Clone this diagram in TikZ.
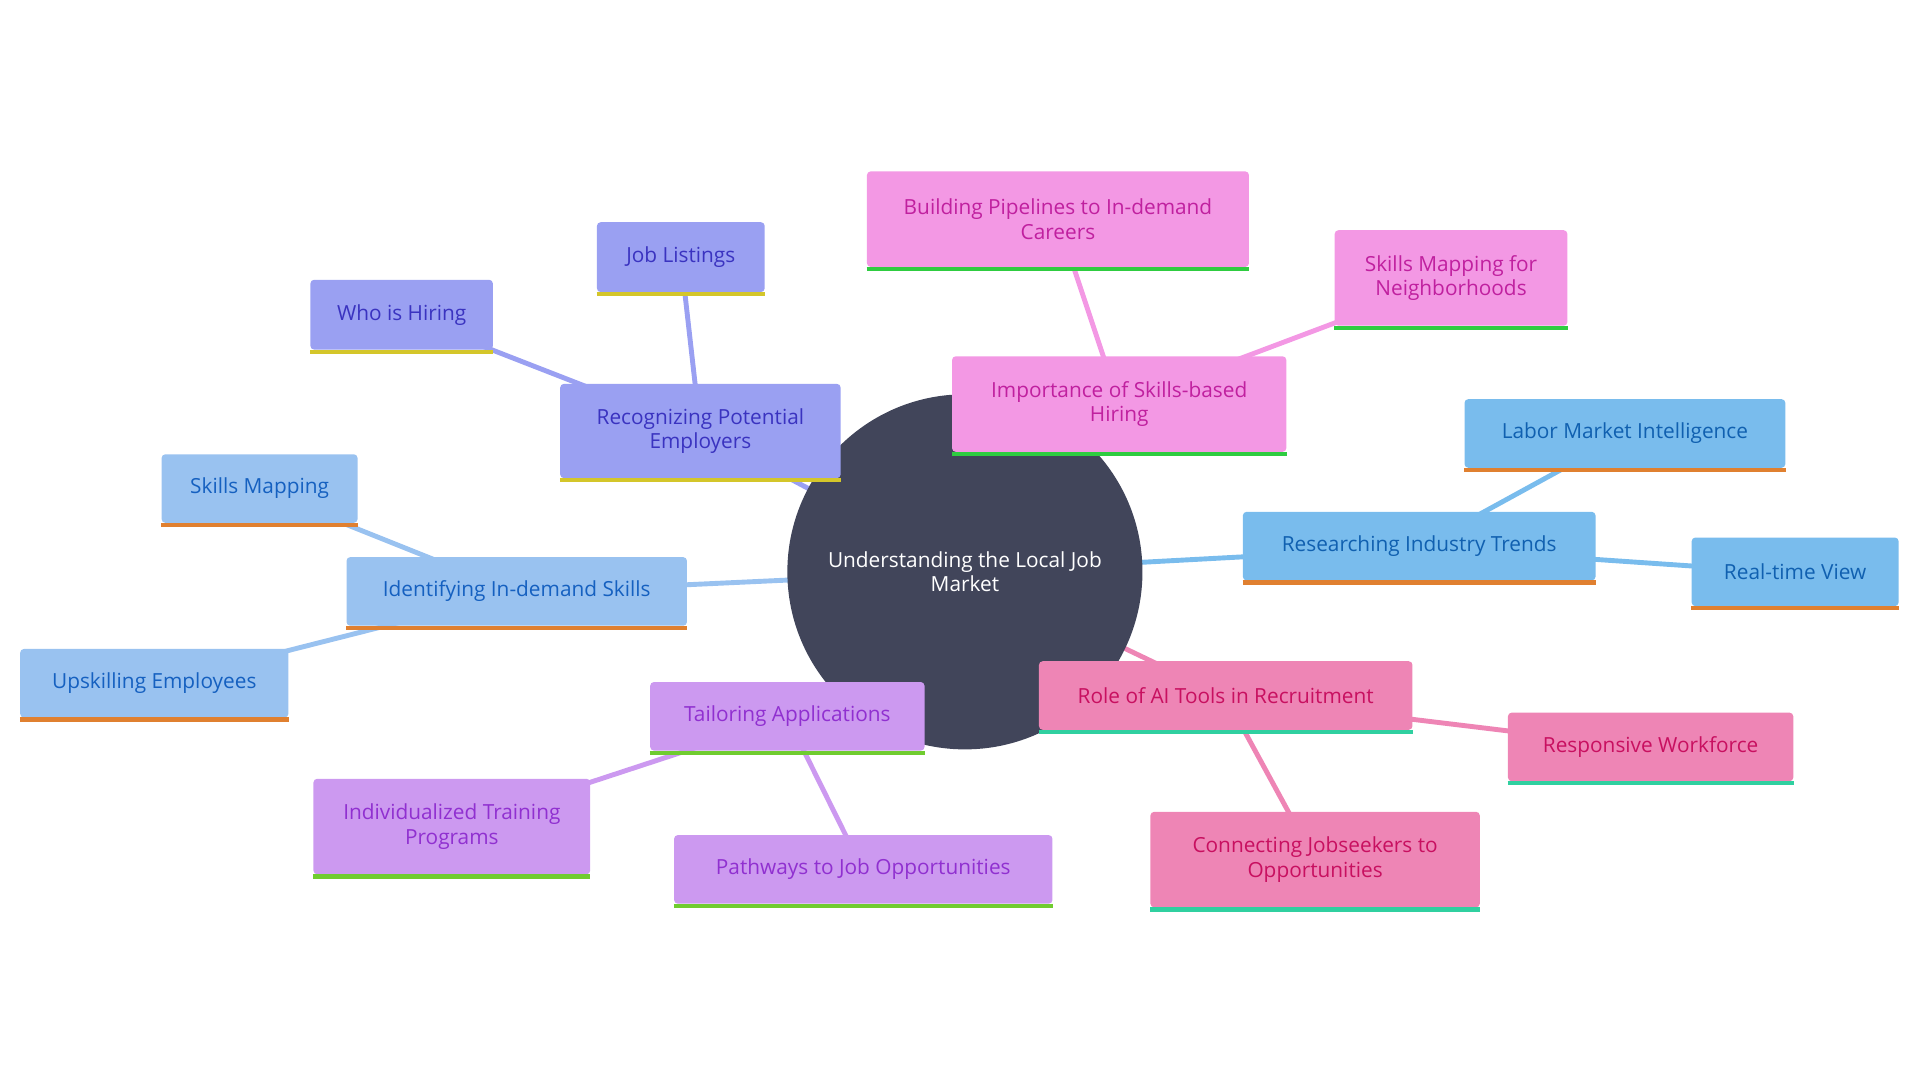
\documentclass[tikz,border=0pt]{standalone}
\usepackage{fontspec}
\setmainfont{Open Sans}
\begin{document}
\begin{tikzpicture}[x=1pt,y=-1pt,
  bx/.style={rectangle,rounded corners=3pt,inner sep=2pt,align=center,font=\fontsize{17}{20}\selectfont},
  ln/.style={line width=4pt}]
\useasboundingbox (0,0) rectangle (1568,882);
\definecolor{cc}{HTML}{41455A}
\definecolor{fa}{HTML}{9AA0F2}\definecolor{ta}{HTML}{3A33C0}\definecolor{ba}{HTML}{D4C62A}
\definecolor{fb}{HTML}{F398E4}\definecolor{tb}{HTML}{C0209F}\definecolor{bb}{HTML}{2ECC40}
\definecolor{fc}{HTML}{79BCED}\definecolor{tc}{HTML}{1060B0}\definecolor{bc}{HTML}{E08030}
\definecolor{fd}{HTML}{EE85B5}\definecolor{td}{HTML}{C81060}\definecolor{bd}{HTML}{30D0A0}
\definecolor{fe}{HTML}{CC99F0}\definecolor{te}{HTML}{9030D0}\definecolor{be}{HTML}{70CC30}
\definecolor{ff}{HTML}{99C2F0}\definecolor{tf}{HTML}{1560C0}
\newcommand{\bx}[9]{\node[bx,fill=#6,text=#7,minimum width=#4,minimum height=#5] (#1) at (#2,#3) {#9};
  \draw[#8,line width=3.5pt] ([yshift=-1.5pt]#1.south west) -- ([yshift=-1.5pt]#1.south east);}
\coordinate (C) at (788,467);
% edges
\coordinate (pa) at (572,352);\coordinate (pb) at (914,330);\coordinate (pc) at (1159,447);
\coordinate (pd) at (1001,569);\coordinate (pe) at (643,586);\coordinate (pf) at (422,484);
\draw[ln,fa] (C)--(pa) (pa)--(556,210) (pa)--(328,257);
\draw[ln,fb] (C)--(pb) (pb)--(864,180) (pb)--(1185,228);
\draw[ln,fc] (C)--(pc) (pc)--(1327,355) (pc)--(1466,468);
\draw[ln,fd] (C)--(pd) (pd)--(1348,611) (pd)--(1074,703);
\draw[ln,fe] (C)--(pe) (pe)--(369,676) (pe)--(705,711);
\draw[ln,ff] (C)--(pf) (pf)--(212,400) (pf)--(126,559);
\node[circle,fill=cc,minimum size=290pt,text=white,align=center,font=\fontsize{17}{20}\selectfont] (c) at (C) {Understanding the Local Job\\Market};
\bx{a}{572}{352}{229pt}{77pt}{fa}{ta}{ba}{Recognizing Potential\\Employers}
\bx{a1}{556}{210}{137pt}{57pt}{fa}{ta}{ba}{Job Listings}
\bx{a2}{328}{257}{149pt}{57pt}{fa}{ta}{ba}{Who is Hiring}
\bx{b}{914}{330}{273pt}{78pt}{fb}{tb}{bb}{Importance of Skills-based\\Hiring}
\bx{b1}{864}{179}{312pt}{78pt}{fb}{tb}{bb}{Building Pipelines to In-demand\\Careers}
\bx{b2}{1185}{227}{190pt}{78pt}{fb}{tb}{bb}{Skills Mapping for\\Neighborhoods}
\bx{c0}{1159}{446}{288pt}{56pt}{fc}{tc}{bc}{Researching Industry Trends}
\bx{c1}{1327}{354}{262pt}{56pt}{fc}{tc}{bc}{Labor Market Intelligence}
\bx{c2}{1466}{467}{169pt}{56pt}{fc}{tc}{bc}{Real-time View}
\bx{d}{1001}{568}{305pt}{56pt}{fd}{td}{bd}{Role of AI Tools in Recruitment}
\bx{d1}{1348}{610}{233pt}{56pt}{fd}{td}{bd}{Responsive Workforce}
\bx{d2}{1074}{702}{269pt}{78pt}{fd}{td}{bd}{Connecting Jobseekers to\\Opportunities}
\bx{e}{643}{585}{224pt}{56pt}{fe}{te}{be}{Tailoring Applications}
\bx{e1}{369}{675}{226pt}{78pt}{fe}{te}{be}{Individualized Training\\Programs}
\bx{e2}{705}{710}{309pt}{56pt}{fe}{te}{be}{Pathways to Job Opportunities}
\bx{f}{422}{483}{278pt}{56pt}{ff}{tf}{bc}{Identifying In-demand Skills}
\bx{f1}{212}{399}{160pt}{56pt}{ff}{tf}{bc}{Skills Mapping}
\bx{f2}{126}{558}{219pt}{56pt}{ff}{tf}{bc}{Upskilling Employees}
\end{tikzpicture}
\end{document}
